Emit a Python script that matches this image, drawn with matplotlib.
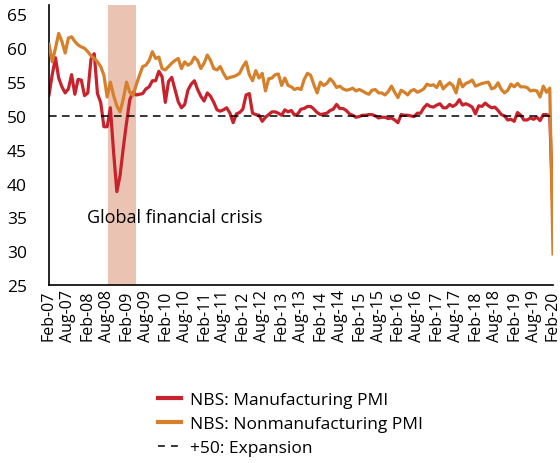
import matplotlib
matplotlib.use("Agg")
import matplotlib.pyplot as plt
from matplotlib.lines import Line2D

plt.rcParams['font.family'] = ['Open Sans', 'DejaVu Sans']

# Monthly values Feb-07 .. Feb-20
manufacturing = [
    # 2007 (Feb-Dec)
    53.1, 56.1, 58.6, 55.6, 54.3, 53.4, 54.0, 56.1, 53.2, 55.4, 55.3,
    # 2008
    53.0, 53.4, 58.4, 59.2, 53.3, 52.0, 48.4, 48.4, 51.2, 44.6, 38.8, 41.2,
    # 2009
    45.3, 49.0, 52.4, 53.5, 53.1, 53.2, 53.3, 54.0, 54.3, 55.2, 55.2, 56.6,
    # 2010
    55.8, 52.0, 55.1, 55.7, 53.9, 52.1, 51.2, 51.7, 53.8, 54.7, 55.2, 53.9,
    # 2011
    52.9, 52.2, 53.4, 52.9, 52.0, 50.9, 50.7, 50.9, 51.2, 50.4, 49.0, 50.3,
    # 2012
    50.5, 51.0, 53.1, 53.3, 50.4, 50.2, 50.1, 49.2, 49.8, 50.2, 50.6, 50.6,
    # 2013
    50.4, 50.1, 50.9, 50.6, 50.8, 50.1, 50.3, 51.0, 51.1, 51.4, 51.4, 51.0,
    # 2014
    50.5, 50.2, 50.3, 50.4, 50.8, 51.0, 51.7, 51.1, 51.1, 50.8, 50.3, 50.1,
    # 2015
    49.8, 49.9, 50.1, 50.1, 50.2, 50.2, 50.0, 49.7, 49.8, 49.8, 49.6, 49.7,
    # 2016
    49.4, 49.0, 50.2, 50.1, 50.1, 50.0, 49.9, 50.4, 50.4, 51.2, 51.7, 51.4,
    # 2017
    51.3, 51.6, 51.8, 51.2, 51.2, 51.7, 51.4, 51.7, 52.4, 51.6, 51.8, 51.6,
    # 2018
    51.3, 50.3, 51.5, 51.4, 51.9, 51.5, 51.2, 51.3, 50.8, 50.2, 50.0, 49.4,
    # 2019
    49.5, 49.2, 50.5, 50.1, 49.4, 49.4, 49.7, 49.5, 49.8, 49.3, 50.2, 50.2,
    # 2020 (Jan-Feb)
    50.0, 35.7,
]

nonmanufacturing = [
    # 2007 (Feb-Dec)
    60.6, 58.0, 60.0, 62.2, 61.0, 59.3, 61.5, 61.7, 61.0, 60.5, 60.2,
    # 2008
    60.0, 59.5, 58.9, 58.5, 58.0, 57.3, 56.0, 52.8, 55.0, 53.0, 51.5, 50.6,
    # 2009
    52.5, 55.0, 53.5, 53.0, 54.6, 56.0, 57.3, 57.5, 58.2, 59.5, 58.5, 58.7,
    # 2010
    57.0, 56.8, 57.3, 57.8, 58.2, 58.5, 57.0, 58.0, 57.5, 57.8, 58.7, 58.2,
    # 2011
    57.0, 57.8, 59.0, 58.2, 57.0, 56.8, 57.3, 56.3, 55.5, 55.7, 55.8, 56.0,
    # 2012
    56.3, 57.3, 58.0, 56.1, 55.2, 56.7, 55.6, 56.3, 53.7, 55.5, 55.6, 56.1,
    # 2013
    56.2, 54.5, 55.6, 54.5, 54.3, 53.9, 54.1, 53.9, 55.4, 56.3, 56.0, 54.6,
    # 2014
    53.4, 55.0, 54.5, 54.8, 55.5, 55.0, 54.2, 54.4, 54.0, 53.8, 53.9, 54.1,
    # 2015
    53.7, 53.9, 53.7, 53.4, 53.2, 53.8, 53.9, 53.4, 53.4, 53.1, 53.6, 54.4,
    # 2016
    53.5, 52.7, 53.8, 53.5, 53.1, 53.7, 53.9, 53.5, 53.7, 54.0, 54.7, 54.5,
    # 2017
    54.6, 54.2, 55.1, 54.0, 54.5, 54.9, 54.5, 53.4, 55.4, 54.3, 54.8, 55.0,
    # 2018
    55.3, 54.4, 54.6, 54.8, 54.9, 55.0, 54.0, 54.2, 54.9, 53.9, 53.4, 53.8,
    # 2019
    54.7, 54.3, 54.8, 54.3, 54.3, 54.2, 53.7, 53.8, 53.7, 52.8, 54.4, 53.5,
    # 2020 (Jan-Feb)
    54.1, 29.6,
]

tick_labels = ["Feb-07", "Aug-07", "Feb-08", "Aug-08", "Feb-09", "Aug-09",
               "Feb-10", "Aug-10", "Feb-11", "Aug-11", "Feb-12", "Aug-12",
               "Feb-13", "Aug-13", "Feb-14", "Aug-14", "Feb-15", "Aug-15",
               "Feb-16", "Aug-16", "Feb-17", "Aug-17", "Feb-18", "Aug-18",
               "Feb-19", "Aug-19", "Feb-20"]
yticks = [25, 30, 35, 40, 45, 50, 55, 60, 65]
crisis_span = (18.2, 26.9)   # month index (Feb-07 = 0)
expansion_level = 50

RED = "#C8232C"
ORANGE = "#D6802B"
SHADE = "#EBC3B3"

months = list(range(len(manufacturing)))

fig = plt.figure(figsize=(5.6, 4.64), dpi=100)
ax = fig.add_axes([49/560, 1 - 286/464, 504/560, 280/464])

ax.axvspan(*crisis_span, color=SHADE, lw=0, zorder=0)
ax.plot(months, manufacturing, color=RED, lw=2.3, zorder=2, solid_joinstyle='round')
ax.plot(months, nonmanufacturing, color=ORANGE, lw=2.3, zorder=3, solid_joinstyle='round')
ax.axhline(expansion_level, color='black', lw=1.1, dashes=(5, 3.5), zorder=4)

ax.text(11.8, 35, "Global financial crisis", fontsize=13, va='center', ha='left')

ax.set_xlim(0, len(months) - 1)
ax.set_ylim(25, 66.4)
ax.set_yticks(yticks)
ax.set_yticklabels([str(v) for v in yticks], fontsize=12.5)
ax.set_xticks(list(range(0, len(months), 6)))
ax.set_xticklabels(tick_labels, rotation=90, fontsize=11.5)
ax.tick_params(axis='both', length=0, pad=3)
ax.tick_params(axis='y', pad=16)
for lab in ax.get_yticklabels():
    lab.set_horizontalalignment('right')

for s in ['top', 'right']:
    ax.spines[s].set_visible(False)
ax.spines['left'].set_linewidth(1.2)
ax.spines['bottom'].set_linewidth(1.2)

handles = [
    Line2D([], [], color=RED, lw=3),
    Line2D([], [], color=ORANGE, lw=3),
    Line2D([], [], color='black', lw=1.1, dashes=(4.5, 4)),
]
labels = ["NBS: Manufacturing PMI", "NBS: Nonmanufacturing PMI", "+50: Expansion"]
fig.legend(handles, labels, loc='upper left', bbox_to_anchor=(158/560, 1 - 393/464),
           frameon=False, fontsize=12.5, handlelength=1.35, handletextpad=0.5,
           labelspacing=0.45, borderaxespad=0, borderpad=0)

fig.savefig("out.png", dpi=100)
